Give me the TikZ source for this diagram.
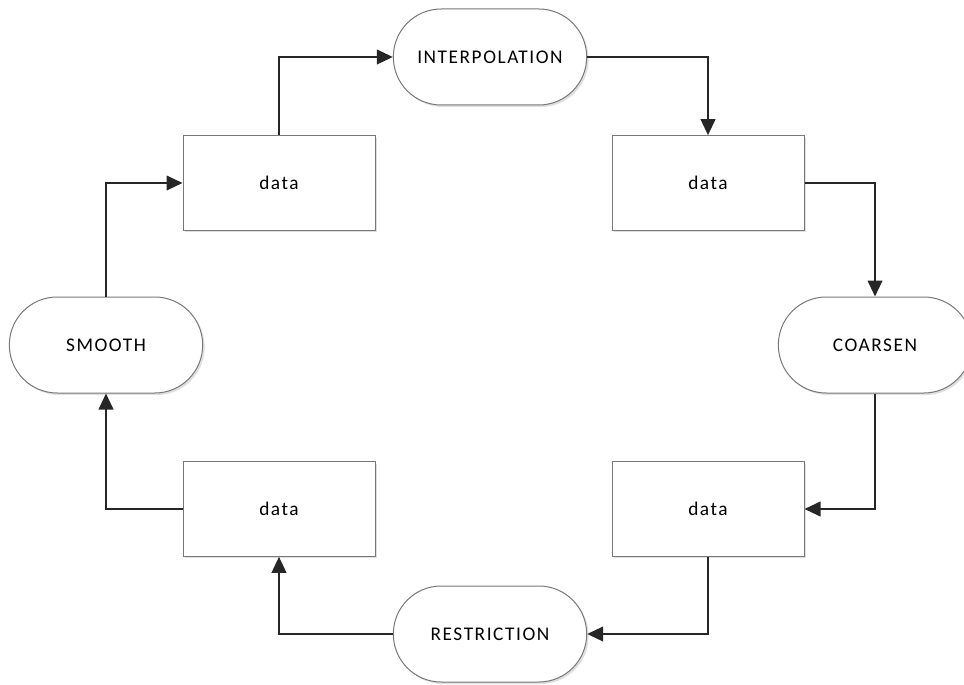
\documentclass[tikz,border=0pt]{standalone}
\usepackage{fontspec}
\setmainfont{Carlito}
\newfontfamily\labelfont[LetterSpace=8]{Carlito}
\usepackage{tikz}
\usetikzlibrary{arrows.meta, shadows}
\definecolor{linegray}{RGB}{38, 38, 38}
\definecolor{boxgray}{RGB}{120, 120, 120}
\tikzset{
  databox/.style={draw=boxgray, fill=white, line width=0.75pt, minimum width=144pt, minimum height=71pt,
    drop shadow={shadow xshift=1.5pt, shadow yshift=-1.5pt, fill=black!25}, font=\labelfont\fontsize{14.5}{17}\selectfont},
  process/.style={draw=boxgray, fill=white, line width=0.75pt, minimum width=145pt, minimum height=72pt, rounded corners=35.9pt,
    drop shadow={shadow xshift=1.5pt, shadow yshift=-1.5pt, fill=black!25}, font=\labelfont\fontsize{14.5}{17}\selectfont},
  flow/.style={draw=linegray, line width=1.5pt, -{Triangle[length=12pt, width=11pt]}}
}

\begin{document}
\begin{tikzpicture}[x=0.75pt, y=-0.75pt]
  \useasboundingbox (0,0) rectangle (964,685);

  % Process steps
  \node[process] (interp) at (490, 57) {INTERPOLATION};
  \node[process] (coarsen) at (875, 345) {COARSEN};
  \node[process] (restr) at (490, 634) {RESTRICTION};
  \node[process] (smooth) at (106, 345) {SMOOTH};

  % Data
  \node[databox] (dtl) at (279, 183) {data};
  \node[databox] (dtr) at (708, 183) {data};
  \node[databox] (dbr) at (708, 509) {data};
  \node[databox] (dbl) at (279, 509) {data};

  % Cycle
  \draw[flow] (dtl.north) |- (interp.west);
  \draw[flow] (interp.east) -| (dtr.north);
  \draw[flow] (dtr.east) -| (coarsen.north);
  \draw[flow] (coarsen.south) |- (dbr.east);
  \draw[flow] (dbr.south) |- (restr.east);
  \draw[flow] (restr.west) -| (dbl.south);
  \draw[flow] (dbl.west) -| (smooth.south);
  \draw[flow] (smooth.north) |- (dtl.west);
\end{tikzpicture}
\end{document}
